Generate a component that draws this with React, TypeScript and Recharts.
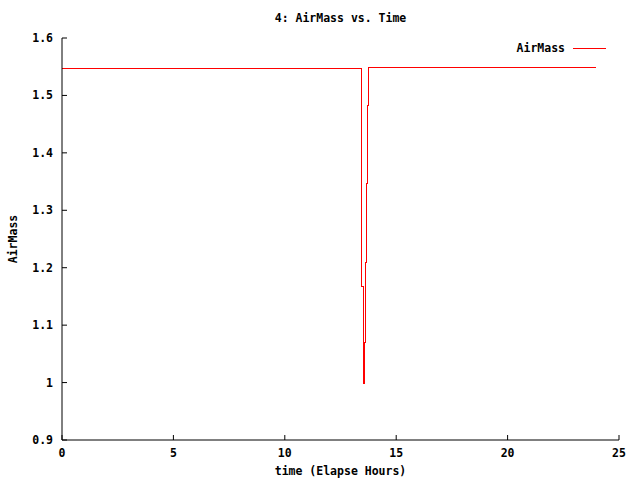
import React from "react";
import { LineChart, Line, XAxis, YAxis, Label } from "recharts";

// Elapsed time (hours) and air mass
const timeHours = [0, 13.43, 13.46, 13.51, 13.55, 13.59, 13.63, 13.68, 13.72, 13.77, 23.95];
const airMass = [1.547, 1.421, 1.167, 1.019, 0.998, 1.069, 1.209, 1.346, 1.482, 1.549, 1.549];
const xTicks = [0, 5, 10, 15, 20, 25];
const yTicks = [0.9, 1.0, 1.1, 1.2, 1.3, 1.4, 1.5, 1.6];
const seriesName = "AirMass";
const titleText = "4: AirMass vs. Time";
const xLabelText = "time (Elapse Hours)";
const yLabelText = "AirMass";

const data = timeHours.map((t, i) => ({ t, v: airMass[i] }));

const FONT = "'DejaVu Sans Mono', 'Liberation Mono', monospace";
const FS = 11.5;
const TICK = 5;

const fmtY = (v: number) => String(Math.round(v * 10) / 10);

const BottomTick = (p: any) => (
  <g>
    <line x1={p.x} y1={p.y} x2={p.x} y2={p.y - TICK} stroke="#000" />
    <text x={p.x} y={p.y + 17} textAnchor="middle" fontFamily={FONT} fontWeight="bold" fontSize={FS} fill="#000">
      {p.payload.value}
    </text>
  </g>
);
const TopTick = (p: any) => (
  <line x1={p.x} y1={p.y} x2={p.x} y2={p.y + TICK} stroke="#000" />
);
const LeftTick = (p: any) => (
  <g>
    <line x1={p.x} y1={p.y} x2={p.x + TICK} y2={p.y} stroke="#000" />
    <text x={p.x - 9} y={p.y + 4} textAnchor="end" fontFamily={FONT} fontWeight="bold" fontSize={FS} fill="#000">
      {fmtY(p.payload.value)}
    </text>
  </g>
);
const RightTick = (p: any) => (
  <line x1={p.x} y1={p.y} x2={p.x - TICK} y2={p.y} stroke="#000" />
);

export default function App() {
  return (
    <div style={{ position: "absolute", left: 0, top: 0, width: 640, height: 480, background: "#fff" }}>
      <div
        style={{
          position: "absolute",
          left: 62,
          width: 557,
          top: 11,
          textAlign: "center",
          fontFamily: FONT,
          fontWeight: "bold",
          fontSize: FS,
          lineHeight: "14px",
          color: "#000",
        }}
      >
        {titleText}
      </div>
      <div
        style={{
          position: "absolute",
          left: 515,
          top: 41,
          display: "flex",
          alignItems: "center",
          fontFamily: FONT,
          fontWeight: "bold",
          fontSize: FS,
          lineHeight: "14px",
          color: "#000",
          zIndex: 2,
        }}
      >
        <span style={{ width: 50, textAlign: "right" }}>{seriesName}</span>
        <svg width={41} height={6} style={{ display: "block" }}>
          <line x1={8} y1={3} x2={41} y2={3} stroke="#ff0000" strokeWidth={1} shapeRendering="crispEdges" />
        </svg>
      </div>
      <LineChart width={640} height={480} data={data} margin={{ top: 38, right: 21, bottom: 0, left: 0 }}>
        <XAxis
          dataKey="t"
          type="number"
          domain={[0, 25]}
          ticks={xTicks}
          height={40}
          tickSize={0}
          tickMargin={0}
          tickLine={false}
          axisLine={{ stroke: "#000" }}
          tick={BottomTick}
          interval={0}
        >
          <Label
            content={({ viewBox }: any) => (
              <text
                x={viewBox.x + viewBox.width / 2}
                y={viewBox.y + 35}
                textAnchor="middle"
                fontFamily={FONT}
                fontWeight="bold"
                fontSize={FS}
                fill="#000"
              >
                {xLabelText}
              </text>
            )}
          />
        </XAxis>
        <XAxis
          xAxisId="top"
          orientation="top"
          dataKey="t"
          type="number"
          domain={[0, 25]}
          ticks={xTicks}
          height={0}
          tickSize={0}
          tickMargin={0}
          tickLine={false}
          axisLine={{ stroke: "#000" }}
          tick={TopTick}
          interval={0}
        />
        <YAxis
          type="number"
          domain={[0.9, 1.6]}
          ticks={yTicks}
          width={62}
          tickSize={0}
          tickMargin={0}
          tickLine={false}
          axisLine={{ stroke: "#000" }}
          tick={LeftTick}
          interval={0}
        >
          <Label
            content={({ viewBox }: any) => {
              const cx = 17;
              const cy = viewBox.y + viewBox.height / 2;
              return (
                <text
                  x={cx}
                  y={cy}
                  transform={`rotate(-90, ${cx}, ${cy})`}
                  textAnchor="middle"
                  fontFamily={FONT}
                  fontWeight="bold"
                  fontSize={FS}
                  fill="#000"
                >
                  {yLabelText}
                </text>
              );
            }}
          />
        </YAxis>
        <YAxis
          yAxisId="right"
          orientation="right"
          type="number"
          domain={[0.9, 1.6]}
          ticks={yTicks}
          width={0}
          tickSize={0}
          tickMargin={0}
          tickLine={false}
          axisLine={{ stroke: "#000" }}
          tick={RightTick}
          interval={0}
        />
        <Line
          type="stepAfter"
          dataKey="v"
          name={seriesName}
          stroke="#ff0000"
          strokeWidth={1}
          shapeRendering="crispEdges"
          dot={false}
          activeDot={false}
          isAnimationActive={false}
        />
        <Line
          xAxisId="top"
          yAxisId="right"
          type="stepAfter"
          dataKey="v"
          stroke="none"
          dot={false}
          activeDot={false}
          legendType="none"
          isAnimationActive={false}
        />
      </LineChart>
    </div>
  );
}
